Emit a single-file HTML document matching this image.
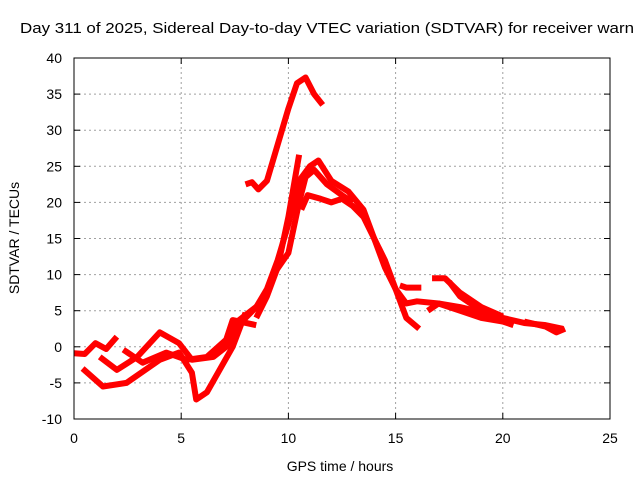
<!DOCTYPE html>
<html><head><meta charset="utf-8"><style>
body{margin:0;background:#fff}
svg{display:block;font-family:"Liberation Sans",sans-serif}
</style></head><body>
<svg id="chart" width="640" height="480" viewBox="0 0 640 480" xmlns="http://www.w3.org/2000/svg">
<rect width="640" height="480" fill="#fff"/>
<text x="20" y="33" font-size="14.5" textLength="614" lengthAdjust="spacingAndGlyphs" fill="#000">Day 311 of 2025, Sidereal Day-to-day VTEC variation (SDTVAR) for receiver warn</text>
<g id="grid"></g><g id="series"></g><g id="axes"></g>
<text x="340" y="471" font-size="14" text-anchor="middle">GPS time / hours</text>
<text transform="translate(19,238) rotate(-90)" font-size="14" text-anchor="middle">SDTVAR / TECUs</text>
</svg>
<script>
const xTicks=[0,5,10,15,20,25];
const yTicks=[-10,-5,0,5,10,15,20,25,30,35,40];
const trackA=[[8,22.5],[8.3,22.8],[8.6,21.8],[9,23],[9.5,28],[10,33],[10.4,36.5],[10.8,37.3],[11.2,35],[11.6,33.5]];
const trackB=[[8.5,4],[9,7],[9.5,11],[10,18],[10.5,26.6]];
const trackC=[[7.5,2],[8,4],[8.5,5.5],[9,8],[9.5,12],[10,17],[10.5,23],[11,25],[11.4,25.8],[12,23],[12.8,21.5],[13.5,19],[14,15],[14.5,12],[15,8],[15.5,4],[16.1,2.5]];
const trackD=[[9.3,10],[10,13],[10.5,20],[10.8,23.5],[11.2,24.5],[11.8,22.5],[12.5,21],[13,20]];
const trackE=[[10.6,19],[10.9,21],[11.5,20.5],[12,20],[12.5,20.5],[13,19.5],[13.5,18],[14,15],[14.5,11],[15,8],[15.5,6],[16,6.3],[17,6],[18,5.5],[19,4.8],[20,4],[21,3.3],[22,3],[22.8,2.5]];
const trackF=[[15.2,8.5],[15.5,8.2],[16.2,8.2]];
const trackG=[[16.7,9.5],[17.3,9.5],[18,7.5],[19,5.5],[20,4.2]];
const trackH=[[17.5,9],[18,7],[19,5],[20,3.5]];
const trackI=[[16.5,5],[17,6],[18,5],[19,4],[20,3.5],[20.5,3]];
const trackJ=[[21,3.5],[22,2.8],[22.5,2],[22.9,2.5]];
const trackL1=[[0,-0.9],[0.5,-1],[1,0.5],[1.5,-0.3],[2,1.4]];
const trackL2=[[0.4,-3],[1.35,-5.5],[2.45,-5],[4,-1.8],[4.9,-0.8],[5.5,-3.6],[5.7,-7.3],[6.2,-6.3],[7.4,0],[8,4.7]];
const trackL3=[[1.2,-1.4],[2,-3.2],[2.95,-1.4],[4,2],[4.9,0.5],[5.5,-1.8],[6.5,-1.4],[7.1,0],[7.7,3.7],[8.7,6]];
const trackL4=[[2.3,-0.4],[3.2,-2.2],[4.3,-0.8],[5.25,-1.8],[6.2,-1.4],[7.1,1],[7.4,3.7],[8.5,3]];
const tracks=[trackA,trackB,trackC,trackD,trackE,trackF,trackG,trackH,trackI,trackJ,trackL1,trackL2,trackL3,trackL4];
const X0=74,X1=610,Y0=419,Y1=58;
const xs=v=>X0+(v-0)/(25-0)*(X1-X0);
const ys=v=>Y0-(v+10)/(50)*(Y0-Y1);
const NS="http://www.w3.org/2000/svg";
function mk(tag,attrs,parent){const e=document.createElementNS(NS,tag);for(const k in attrs)e.setAttribute(k,attrs[k]);parent.appendChild(e);return e;}
const grid=document.getElementById('grid'),axes=document.getElementById('axes'),series=document.getElementById('series');
xTicks.forEach(t=>{const x=xs(t);
 if(t>0&&t<25){const g=mk('line',{x1:x,x2:x,y1:Y0,y2:Y1,stroke:'#a0a0a0','stroke-dasharray':'2,3'},grid);}
 mk('line',{x1:x,x2:x,y1:Y0,y2:Y0-6,stroke:'#000'},axes);mk('line',{x1:x,x2:x,y1:Y1,y2:Y1+6,stroke:'#000'},axes);
 const l=mk('text',{x:x,y:443,'font-size':14,'text-anchor':'middle'},axes);l.textContent=t;
 });
yTicks.forEach(t=>{const y=ys(t);
 if(t>-10&&t<40){const g=mk('line',{x1:X0,x2:X1,y1:y,y2:y,stroke:'#a0a0a0','stroke-dasharray':'2,3'},grid);}
 mk('line',{x1:X0,x2:X0+6,y1:y,y2:y,stroke:'#000'},axes);mk('line',{x1:X1,x2:X1-6,y1:y,y2:y,stroke:'#000'},axes);
 const l=mk('text',{x:62,y:y+5,'font-size':14,'text-anchor':'end'},axes);l.textContent=t;
 });
const b=mk('rect',{x:X0,y:Y1,width:X1-X0,height:Y0-Y1,fill:'none',stroke:'#000'},axes);

tracks.forEach(tr=>{const p=mk('polyline',{points:tr.map(d=>xs(d[0])+','+ys(d[1])).join(' '),fill:'none',stroke:'#ff0000','stroke-width':6,'stroke-linejoin':'round','stroke-linecap':'butt'},series);
 });
</script>
</body></html>
